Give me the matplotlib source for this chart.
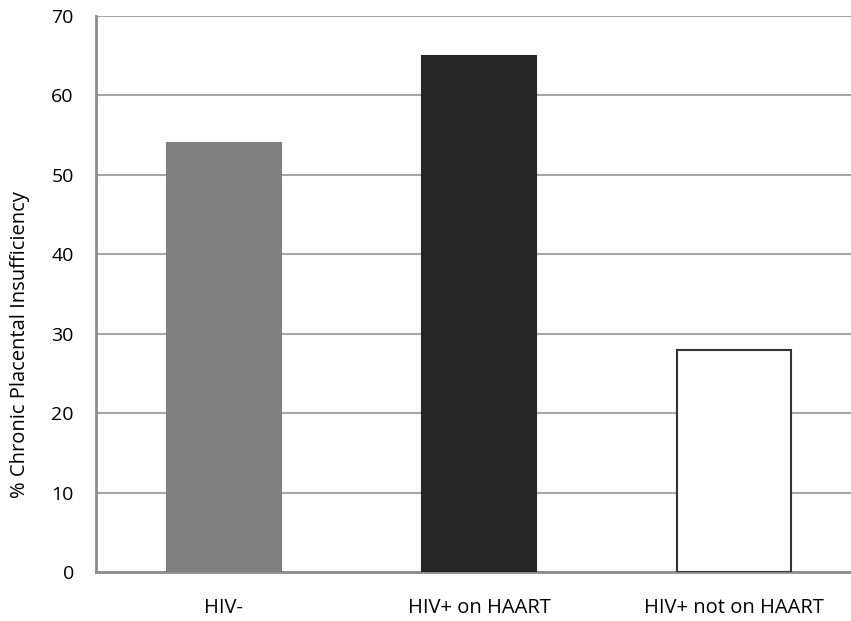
import matplotlib.pyplot as plt

groups = ["HIV-", "HIV+ on HAART", "HIV+ not on HAART"]
values = [54, 65, 28]
fills = ["#808080", "#262626", "#ffffff"]
edges = ["#808080", "#262626", "#333333"]

plt.rcParams['font.family'] = ['Open Sans', 'DejaVu Sans']

fig = plt.figure(figsize=(8.51, 6.21), dpi=100)
ax = fig.add_axes([96 / 851, 1 - 572 / 621, 1 - 96 / 851, (572 - 16) / 621])

x = list(range(len(groups)))
ax.bar(x, values, width=0.446, color=fills, edgecolor=edges, linewidth=1.5, zorder=3)

ax.set_xlim(-0.5, 2.457)
ax.set_ylim(0, 70)
ax.set_yticks(range(0, 80, 10))
ax.yaxis.grid(True, color="#a6a6a6", linewidth=1.5, zorder=0)
ax.set_axisbelow(True)

for s in ["right", "top"]:
    ax.spines[s].set_visible(False)
for s in ["left", "bottom"]:
    ax.spines[s].set_color("#8c8c8c")
    ax.spines[s].set_linewidth(2)

ax.tick_params(axis="both", length=0)
ax.tick_params(axis="y", labelsize=14, pad=16)
ax.tick_params(axis="x", labelsize=14.5, pad=19)
ax.set_xticks(x)
ax.set_xticklabels(groups)

# y axis title sits a bit below the plot centre in the original
fig.text(20 / 851, 1 - 345 / 621, "% Chronic Placental Insufficiency",
         rotation=90, ha="center", va="center", fontsize=14.5)

fig.savefig("out.png", dpi=100)
